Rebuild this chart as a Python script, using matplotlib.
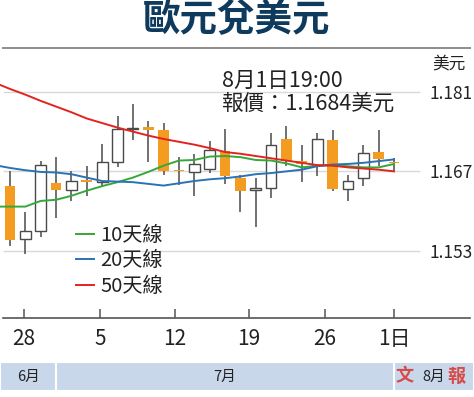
import matplotlib.pyplot as plt
from matplotlib.lines import Line2D

plt.rcParams['font.family'] = ['Noto Sans CJK TC', 'DejaVu Sans']

TITLE = "歐元兌美元"
UNIT = "美元"
STAMP = "8月1日19:00"
QUOTE = "報價：1.1684美元"

# daily candles, 27 Jun -> 1 Aug
OPEN = [1.1645, 1.1551, 1.1565, 1.1649, 1.1637, 1.1654, 1.1651, 1.1687, 1.1745,
        1.1748, 1.1742, 1.1672, 1.1668, 1.1674, 1.1706, 1.1658, 1.1637, 1.1640,
        1.1727, 1.1689, 1.1681, 1.1726, 1.1639, 1.1658, 1.1704, 1.1687]
HIGH = [1.1670, 1.1599, 1.1689, 1.1696, 1.1671, 1.1680, 1.1718, 1.1767, 1.1789,
        1.1758, 1.1755, 1.1696, 1.1700, 1.1724, 1.1745, 1.1664, 1.1658, 1.1737,
        1.1749, 1.1717, 1.1737, 1.1743, 1.1664, 1.1717, 1.1743, 1.1693]
LOW = [1.1538, 1.1524, 1.1555, 1.1588, 1.1618, 1.1626, 1.1643, 1.1677, 1.1726,
       1.1687, 1.1663, 1.1646, 1.1626, 1.1667, 1.1648, 1.1599, 1.1572, 1.1623,
       1.1679, 1.1651, 1.1661, 1.1636, 1.1618, 1.1645, 1.1679, 1.1670]
CLOSE = [1.1549, 1.1565, 1.1681, 1.1637, 1.1653, 1.1652, 1.1687, 1.1744, 1.1747,
         1.1742, 1.1671, 1.1670, 1.1683, 1.1707, 1.1662, 1.1636, 1.1640, 1.1717,
         1.1689, 1.1683, 1.1727, 1.1639, 1.1653, 1.1702, 1.1692, 1.1684]

# moving averages, starting one session before the first candle
MA10 = [1.1608, 1.1608, 1.1608, 1.1618, 1.1620, 1.1627, 1.1636, 1.1644, 1.1651,
        1.1659, 1.1669, 1.1680, 1.1689, 1.1690, 1.1696, 1.1697, 1.1695, 1.1690,
        1.1689, 1.1684, 1.1677, 1.1680, 1.1681, 1.1679, 1.1677, 1.1677, 1.1683]
MA20 = [1.1681, 1.1676, 1.1672, 1.1669, 1.1668, 1.1665, 1.1659, 1.1653, 1.1652,
        1.1651, 1.1648, 1.1645, 1.1649, 1.1653, 1.1656, 1.1658, 1.1661, 1.1665,
        1.1667, 1.1670, 1.1673, 1.1679, 1.1682, 1.1683, 1.1685, 1.1688, 1.1691]
MA50 = [1.1826, 1.1815, 1.1805, 1.1794, 1.1784, 1.1774, 1.1763, 1.1755, 1.1747,
        1.1740, 1.1733, 1.1727, 1.1722, 1.1717, 1.1711, 1.1704, 1.1701, 1.1697,
        1.1693, 1.1689, 1.1685, 1.1681, 1.1680, 1.1677, 1.1675, 1.1673, 1.1670]
MA_LABELS = ["10天線", "20天線", "50天線"]
MA_COLORS = ["#35a83a", "#2a72b5", "#e3231f"]

DAY_LABELS = ["28", "5", "12", "19", "26", "1日"]
DAY_TICKS = [0.91, 5.86, 10.74, 15.56, 20.5, 25.0]
PRICE_TICKS = [1.153, 1.167, 1.181]
MONTHS = ["6月", "7月", "8月"]
MONTH_STARTS = [3, 25]  # first session of July / August

W, H = 474, 397
XLIM = (-0.65, 30.21)
YLIM = (1.1412, 1.1880)
UP_COLOR = "white"
DOWN_COLOR = "#f39c1f"
WICK_COLOR = "#4a4a4a"


def fy(px):
    return 1 - px / H


fig = plt.figure(figsize=(W / 100, H / 100), dpi=100)

# price panel
ax = fig.add_axes([0, fy(318), 1, (318 - 52) / H])
ax.set_xlim(*XLIM)
ax.set_ylim(*YLIM)

ax.hlines(PRICE_TICKS, -0.45, 26.7, color="#d9d9d9", lw=1.0, zorder=0)

days = range(len(OPEN))
ax.vlines(days, LOW, HIGH, color=WICK_COLOR, lw=1.1, zorder=1)
for i, o, c in zip(days, OPEN, CLOSE):
    up = c >= o
    body = max(abs(c - o), 0.00018)
    ax.bar(i, body, bottom=min(o, c), width=0.7,
           color=UP_COLOR if up else DOWN_COLOR,
           edgecolor=WICK_COLOR if up else DOWN_COLOR,
           lw=1.0 if up else 0, zorder=2)

ma_x = range(-1, len(MA10) - 1)
handles = []
for vals, label, color in zip([MA10, MA20, MA50], MA_LABELS, MA_COLORS):
    (line,) = ax.plot(ma_x, vals, color=color, lw=1.4, label=label, zorder=3)
    handles.append(line)

ax.legend(handles=handles, loc="upper left", frameon=False,
          bbox_to_anchor=(76 / W, fy(225)), bbox_transform=fig.transFigure,
          fontsize=14.5, handlelength=0.9, handletextpad=0.3, labelspacing=0.22,
          borderpad=0, borderaxespad=0, labelcolor="#222222")

for side in ["top", "left", "right"]:
    ax.spines[side].set_visible(False)
ax.spines["bottom"].set_color("#555555")
ax.spines["bottom"].set_linewidth(1.2)
ax.spines["bottom"].set_bounds(-0.45, 29.95)

ax.set_xticks(DAY_TICKS, DAY_LABELS)
ax.tick_params(axis="x", direction="in", length=6.5, width=1.1, color="#555555",
               pad=7.5, labelsize=15, labelcolor="#222222")
ax.set_yticks(PRICE_TICKS, [f"{p:.3f}" for p in PRICE_TICKS])
ax.yaxis.tick_right()
ax.tick_params(axis="y", length=0, pad=-32, labelsize=12.5, labelcolor="#222222")

# month band
band = fig.add_axes([0, fy(391), 1, 29 / H])
band.set_xlim(*XLIM)
band.set_ylim(0, 1)
band.axis("off")
edges = [XLIM[0]] + MONTH_STARTS + [XLIM[1]]
for label, left, right in zip(MONTHS, edges[:-1], edges[1:]):
    band.barh(0.5, right - left, left=left, height=1, color="#c9d7ea",
              edgecolor="white", lw=1.5)
    band.text((left + right) / 2, 0.5, label, ha="center", va="center",
              fontsize=10.5, color="#222222")

# header
fig.text(0.5, fy(20), TITLE, ha="center", va="center", fontsize=27,
         fontweight="bold", color="#0e3a5e")
fig.add_artist(Line2D([3 / W, 470 / W], [fy(48), fy(48)], color="#8c8c8c", lw=1.4))
fig.text(449 / W, fy(65), UNIT, ha="center", va="center", fontsize=12,
         color="#222222")
fig.text(222 / W, fy(81), STAMP, va="center", fontsize=15.5, color="#222222")
fig.text(222 / W, fy(104), QUOTE, va="center", fontsize=15.5, color="#222222")

# newspaper mark, split around the 8月 label
for ch, px in zip("文報", [405, 456]):
    fig.text(px / W, fy(376), ch, ha="center", va="center", fontsize=13,
             fontweight="bold", color="#d8322a", alpha=0.85)

fig.savefig("out.png", dpi=100)
